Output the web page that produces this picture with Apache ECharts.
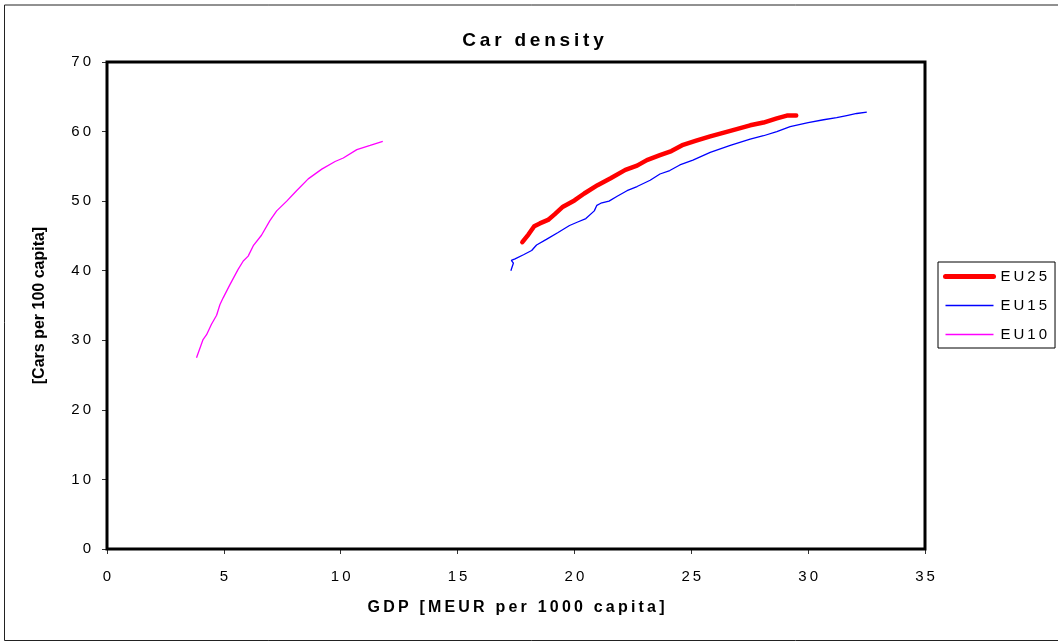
<!DOCTYPE html>
<html>
<head>
<meta charset="utf-8">
<script src="https://cdn.jsdelivr.net/npm/echarts@6/dist/echarts.min.js"></script>
<style>
  html, body { margin: 0; padding: 0; background: #fff; }
  #chart { width: 1058px; height: 642px; }
</style>
</head>
<body>
<div id="chart"></div>
<script>
  // GDP [MEUR per 1000 capita] vs cars per 100 capita
  const eu25Gdp = [17.77, 18.03, 18.28, 18.52, 18.87, 19.15, 19.51, 20.0, 20.42, 20.99, 21.55, 22.18, 22.68, 23.1, 23.66, 24.15, 24.65, 25.21, 25.81, 26.67, 27.52, 28.09, 28.66, 29.09, 29.49]
  const eu25Cars = [44.1, 45.2, 46.4, 46.8, 47.3, 48.1, 49.2, 50.1, 51.1, 52.3, 53.3, 54.5, 55.1, 55.9, 56.6, 57.2, 58.1, 58.7, 59.3, 60.1, 60.9, 61.3, 61.9, 62.3, 62.3]

  const eu15Gdp = [17.28, 17.39, 17.3, 17.46, 17.82, 18.17, 18.38, 18.8, 19.3, 19.79, 20.14, 20.49, 20.85, 20.96, 21.13, 21.48, 21.83, 22.25, 22.68, 23.24, 23.66, 24.08, 24.51, 25.07, 25.81, 26.67, 27.52, 28.09, 28.66, 29.23, 30.0, 30.66, 31.22, 31.65, 32.08, 32.51]
  const eu15Cars = [40.0, 41.1, 41.5, 41.7, 42.3, 42.9, 43.7, 44.5, 45.5, 46.5, 47.0, 47.5, 48.6, 49.4, 49.7, 50.0, 50.7, 51.5, 52.1, 53.0, 53.9, 54.4, 55.2, 55.9, 57.0, 58.0, 58.9, 59.4, 60.0, 60.7, 61.3, 61.7, 62.0, 62.3, 62.6, 62.8]

  const eu10Gdp = [3.83, 4.11, 4.26, 4.47, 4.69, 4.83, 4.97, 5.26, 5.61, 5.83, 6.04, 6.26, 6.61, 6.97, 7.26, 7.69, 8.11, 8.61, 9.19, 9.76, 10.11, 10.69, 11.26, 11.8]
  const eu10Cars = [27.5, 30.1, 30.8, 32.3, 33.6, 35.1, 36.1, 38.0, 40.2, 41.4, 42.1, 43.6, 45.1, 47.2, 48.6, 50.0, 51.5, 53.2, 54.6, 55.7, 56.2, 57.4, 58.0, 58.6]

  const seriesNames = ['EU25', 'EU15', 'EU10']

  const font = 'Liberation Sans, Arial, sans-serif'
  // the original uses wide letter spacing, imitate it with thin spaces
  const spaced = (s) => String(s).split('').join('\u2009')
  const pairs = (xs, ys) => xs.map((x, i) => [x, ys[i]])

  const chart = echarts.init(document.getElementById('chart'), null, { renderer: 'canvas' })

  chart.setOption({
    animation: false,
    backgroundColor: '#fff',
    textStyle: { fontFamily: font },
    title: {
      text: spaced('Car density'),
      left: 528,
      top: 26,
      textAlign: 'center',
      textStyle: { fontSize: 19, fontWeight: 'bold', color: '#000', fontFamily: font },
    },
    graphic: [
      {
        type: 'polyline',
        shape: { points: [[1070, 5], [4.5, 5], [4.5, 640.5], [1070, 640.5]] },
        style: { stroke: '#222', lineWidth: 1, fill: null },
        silent: true,
      },
    ],
    legend: {
      orient: 'vertical',
      left: 938,
      top: 262,
      padding: [7, 8, 6, 5],
      itemGap: 14,
      itemWidth: 48,
      itemHeight: 14,
      borderColor: '#000',
      borderWidth: 1,
      borderRadius: 0,
      data: [
        { name: seriesNames[0], lineStyle: { width: 5, cap: 'round' } },
        { name: seriesNames[1], lineStyle: { width: 1.3 } },
        { name: seriesNames[2], lineStyle: { width: 1.3 } },
      ],
      formatter: (name) => spaced(name),
      itemStyle: { opacity: 0 },
      textStyle: { fontSize: 15, color: '#000', fontFamily: font, padding: [0, 0, 0, 2] },
    },
    grid: {
      left: 107,
      top: 62,
      width: 818,
      height: 487,
      show: true,
      borderColor: '#000',
      borderWidth: 3,
      backgroundColor: '#fff',
      z: 1,
    },
    xAxis: {
      type: 'value',
      min: 0,
      max: 35,
      interval: 5,
      name: spaced('GDP [MEUR per 1000 capita]'),
      nameLocation: 'middle',
      nameGap: 51,
      nameTextStyle: { fontSize: 16, fontWeight: 'bold', color: '#000', fontFamily: font },
      axisLine: { show: false },
      axisTick: { show: true, length: 5, lineStyle: { color: '#333' } },
      axisLabel: {
        margin: 20,
        fontSize: 15,
        color: '#000',
        fontFamily: font,
        formatter: (v) => spaced(v),
      },
      splitLine: { show: true, lineStyle: { color: '#000', width: 1 } },
    },
    yAxis: {
      type: 'value',
      min: 0,
      max: 70,
      interval: 10,
      name: '[Cars per 100 capita]',
      nameLocation: 'middle',
      nameGap: 59,
      nameTextStyle: { fontSize: 16, fontWeight: 'bold', color: '#000', fontFamily: font },
      axisLine: { show: false },
      axisTick: { show: true, length: 5, lineStyle: { color: '#333' } },
      axisLabel: {
        margin: 16,
        fontSize: 15,
        color: '#000',
        fontFamily: font,
        formatter: (v) => spaced(v),
      },
      splitLine: { show: true, lineStyle: { color: '#000', width: 1 } },
    },
    series: [
      {
        name: 'EU25',
        type: 'line',
        data: pairs(eu25Gdp, eu25Cars),
        symbol: 'none',
        z: 5,
        lineStyle: { width: 4.5, color: '#ff0000', cap: 'round', join: 'round' },
        itemStyle: { color: '#ff0000' },
      },
      {
        name: 'EU15',
        type: 'line',
        data: pairs(eu15Gdp, eu15Cars),
        symbol: 'none',
        z: 4,
        lineStyle: { width: 1.3, color: '#0000ff' },
        itemStyle: { color: '#0000ff' },
      },
      {
        name: 'EU10',
        type: 'line',
        data: pairs(eu10Gdp, eu10Cars),
        symbol: 'none',
        z: 4,
        lineStyle: { width: 1.3, color: '#ff00ff' },
        itemStyle: { color: '#ff00ff' },
      },
    ],
  })
</script>
</body>
</html>
